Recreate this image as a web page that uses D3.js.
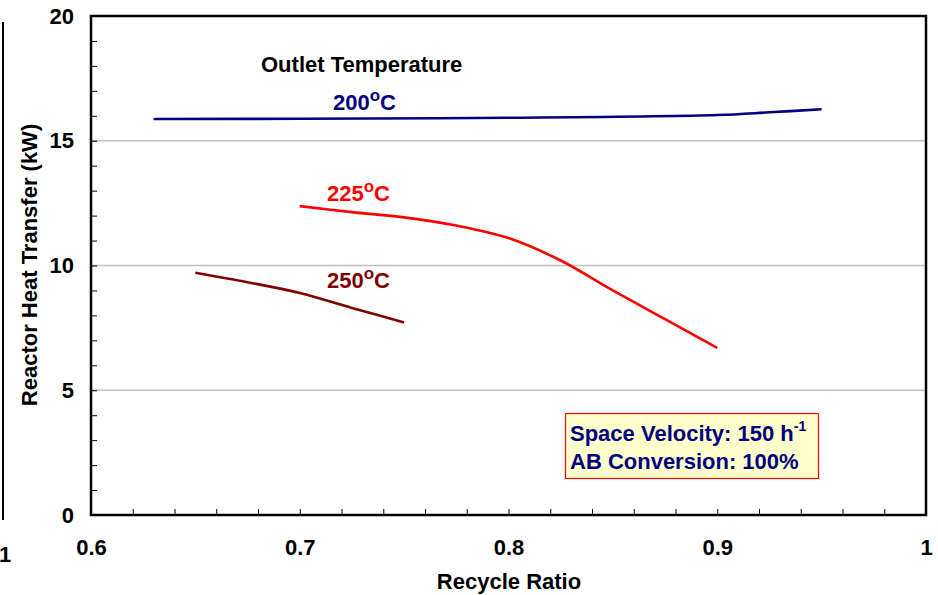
<!DOCTYPE html>
<html>
<head>
<meta charset="utf-8">
<script src="https://cdn.jsdelivr.net/npm/d3@7"></script>
<style>
  html, body { margin: 0; padding: 0; background: #fff; }
  svg { display: block; font-family: "Liberation Sans", Arial, sans-serif; font-weight: bold; }
</style>
</head>
<body>
<svg id="chart" width="938" height="595"></svg>
<script>
// Recycle ratio vs. reactor heat transfer for three outlet temperatures
const ratio200 = [0.63, 0.70, 0.80, 0.90, 0.925, 0.95];
const heat200  = [15.87, 15.88, 15.92, 16.03, 16.14, 16.26];

const ratio225 = [0.70, 0.725, 0.75, 0.775, 0.80, 0.825, 0.85, 0.875, 0.90];
const heat225  = [12.38, 12.14, 11.93, 11.6, 11.1, 10.2, 9.0, 7.85, 6.7];

const ratio250 = [0.65, 0.675, 0.70, 0.725, 0.75];
const heat250  = [9.71, 9.33, 8.9, 8.3, 7.72];

const xTickValues = [0.6, 0.7, 0.8, 0.9, 1];
const xTickLabels = ["0.6", "0.7", "0.8", "0.9", "1"];
const yTickValues = [0, 5, 10, 15, 20];
const yTickLabels = ["0", "5", "10", "15", "20"];

const seriesNames  = ["200", "225", "250"];
const seriesColors = ["#000080", "#ff0000", "#800000"];

const FS = 22;
const svg = d3.select("#chart");
const plotL = 91, plotR = 926, plotT = 16, plotB = 515;

const x = d3.scaleLinear().domain([0.6, 1]).range([plotL, plotR]);
const y = d3.scaleLinear().domain([0, 20]).range([plotB, plotT]);

// edge of a neighbouring panel
svg.append("line").attr("x1", 3).attr("x2", 3).attr("y1", 22).attr("y2", 520)
  .attr("stroke", "#000").attr("stroke-width", 2);
svg.append("text").attr("x", -1).attr("y", 562).attr("font-size", FS).text("1");

// horizontal gridlines
svg.append("g").selectAll("line").data([5, 10, 15]).join("line")
  .attr("x1", plotL).attr("x2", plotR)
  .attr("y1", d => y(d)).attr("y2", d => y(d))
  .attr("stroke", "#c0c0c0").attr("stroke-width", 1.5);

// minor ticks pointing inward
const xMinor = d3.range(0, 21).map(i => 0.6 + i * 0.02);
svg.append("g").attr("transform", `translate(0,${plotB})`)
  .call(d3.axisTop(x).tickValues(xMinor).tickSize(6).tickFormat(""))
  .call(g => g.select(".domain").remove())
  .call(g => g.selectAll("line").attr("stroke", "#000").attr("stroke-width", 1));
const yMinor = d3.range(0, 21);
svg.append("g").attr("transform", `translate(${plotL},0)`)
  .call(d3.axisRight(y).tickValues(yMinor).tickSize(6).tickFormat(""))
  .call(g => g.select(".domain").remove())
  .call(g => g.selectAll("line").attr("stroke", "#000").attr("stroke-width", 1));

// tick labels
svg.append("g").attr("transform", `translate(0,${plotB})`)
  .call(d3.axisBottom(x).tickValues(xTickValues).tickSize(0).tickPadding(24)
    .tickFormat((d, i) => xTickLabels[i]))
  .call(g => g.select(".domain").remove())
  .call(g => g.selectAll("text").attr("font-size", FS).attr("font-weight", "bold")
    .attr("font-family", "Liberation Sans, Arial, sans-serif").attr("fill", "#000"));
svg.append("g").attr("transform", `translate(${plotL},0)`)
  .call(d3.axisLeft(y).tickValues(yTickValues).tickSize(0).tickPadding(17)
    .tickFormat((d, i) => yTickLabels[i]))
  .call(g => g.select(".domain").remove())
  .call(g => g.selectAll("text").attr("font-size", FS).attr("font-weight", "bold")
    .attr("font-family", "Liberation Sans, Arial, sans-serif").attr("fill", "#000"));

// plot frame
svg.append("rect").attr("x", plotL).attr("y", plotT)
  .attr("width", plotR - plotL).attr("height", plotB - plotT)
  .attr("fill", "none").attr("stroke", "#000").attr("stroke-width", 2.5);

// curves
const line = d3.line().x(d => x(d[0])).y(d => y(d[1])).curve(d3.curveCatmullRom.alpha(0.5));
const series = [
  d3.zip(ratio200, heat200),
  d3.zip(ratio225, heat225),
  d3.zip(ratio250, heat250)
];
svg.append("g").selectAll("path").data(series).join("path")
  .attr("d", line)
  .attr("fill", "none")
  .attr("stroke", (d, i) => seriesColors[i])
  .attr("stroke-width", 2.6);

// curve labels with superscript degree
const labelPos = [[333, 110], [327, 201], [327, 288]];
seriesNames.forEach((name, i) => {
  const t = svg.append("text").attr("x", labelPos[i][0]).attr("y", labelPos[i][1])
    .attr("font-size", FS).attr("fill", seriesColors[i]);
  t.append("tspan").text(name);
  t.append("tspan").attr("font-size", 17).attr("dy", -9).text("o");
  t.append("tspan").attr("dy", 9).text("C");
});

svg.append("text").attr("x", 261).attr("y", 72).attr("font-size", FS)
  .attr("fill", "#000").text("Outlet Temperature");

// condition box
svg.append("rect").attr("x", 565.5).attr("y", 413.5).attr("width", 253).attr("height", 65)
  .attr("fill", "#ffffcc").attr("stroke", "#ff0000").attr("stroke-width", 1.2);
const sv = svg.append("text").attr("x", 570).attr("y", 441).attr("font-size", FS).attr("fill", "#000080");
sv.append("tspan").text("Space Velocity: 150 h");
sv.append("tspan").attr("font-size", 14).attr("dy", -10).text("-1");
svg.append("text").attr("x", 570).attr("y", 469).attr("font-size", FS).attr("fill", "#000080")
  .text("AB Conversion: 100%");

// axis titles
svg.append("text").attr("x", 509).attr("y", 589).attr("text-anchor", "middle")
  .attr("font-size", FS).attr("fill", "#000").text("Recycle Ratio");
svg.append("text").attr("transform", "translate(37,265) rotate(-90)")
  .attr("text-anchor", "middle").attr("font-size", FS).attr("fill", "#000")
  .text("Reactor Heat Transfer (kW)");
</script>
</body>
</html>
